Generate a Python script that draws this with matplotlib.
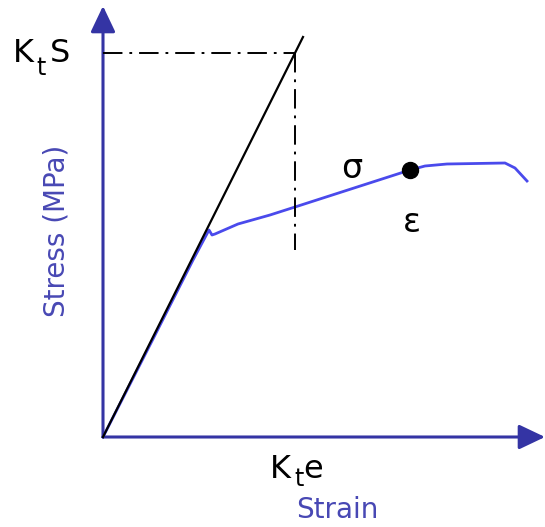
import matplotlib
matplotlib.use("Agg")
import matplotlib.pyplot as plt

plt.rcParams["font.family"] = ["DejaVu Sans"]
plt.rcParams["lines.scale_dashes"] = False

# Elastic (Neuber) line: stress = E * strain
E = 2.0
elastic_strain = [0.0, 2.0]
elastic_stress = [E * s for s in elastic_strain]

# Local stress / strain from the elastic solution
KtS = 3.84
Kte = KtS / E

# Actual elastic-plastic stress-strain curve
curve_strain = [0.0, 0.5, 0.9, 1.06, 1.09, 1.12, 1.35, 1.67, 1.92, 3.07, 3.22, 3.44, 4.02, 4.12, 4.24]
curve_stress = [0.0, 0.98, 1.77, 2.07, 2.02, 2.03, 2.13, 2.22, 2.30, 2.67, 2.71, 2.73, 2.74, 2.69, 2.56]

# Solution point (sigma, epsilon)
point_strain = 3.07
point_stress = 2.67

axis_color = "#3434a4"
curve_color = "#4a4aec"
label_color = "#4848b4"

fig = plt.figure(figsize=(5.45, 5.27), dpi=100)
ax = fig.add_axes([0, 0, 1, 1])
ax.set_xlim(-1.03, 4.42)
ax.set_ylim(-0.90, 4.37)
ax.axis("off")

# Axes with arrowheads
arrow = dict(arrowstyle="-|>,head_length=0.8,head_width=0.38", lw=2.2,
             color=axis_color, mutation_scale=20, shrinkA=0, shrinkB=0)
ax.annotate("", xy=(0, 4.31), xytext=(0, 0), arrowprops=arrow)
ax.annotate("", xy=(4.42, 0), xytext=(0, 0), arrowprops=arrow)

# Dash-dot guide lines to KtS and Kte
dd = (0, (14, 5, 2, 5))
ax.plot([0, Kte], [KtS, KtS], color="black", lw=1.4, linestyle=dd, zorder=3)
ax.plot([Kte, Kte], [KtS, 1.87], color="black", lw=1.4, linestyle=dd, zorder=3)

# Stress-strain curve (under the elastic line)
ax.plot(curve_strain, curve_stress, color=curve_color, lw=2.0, zorder=2)

# Elastic line
ax.plot(elastic_strain, elastic_stress, color="black", lw=1.6, zorder=4)

ax.plot([point_strain], [point_stress], "o", color="black", markersize=11.5, zorder=5)


def sub_label(anchor, parts):
    """Draw a label made of (text, dx, dy, size) pieces offset in pixels."""
    for txt, dx, dy, size in parts:
        ax.annotate(txt, xy=anchor, xytext=(dx, dy), textcoords="offset pixels",
                    fontsize=size, ha="center", va="baseline", color="black")


sub_label((0, KtS), [("K", -80, -9, 23), ("t", -62, -22, 17), ("S", -43, -9, 23)])
sub_label((Kte, 0), [("K", -15, -41, 23), ("t", 4, -49, 17), ("e", 18, -41, 23)])

ax.text(2.49, 2.69, "σ", fontsize=24, ha="center", va="center", color="black")
ax.text(3.09, 2.15, "ε", fontsize=24, ha="center", va="center", color="black")
ax.text(2.34, -0.73, "Strain", fontsize=20, ha="center", va="center", color=label_color)
ax.text(-0.46, 2.06, "Stress (MPa)", fontsize=20, ha="center", va="center",
        rotation=90, color=label_color)

fig.savefig("out.png", dpi=100)
